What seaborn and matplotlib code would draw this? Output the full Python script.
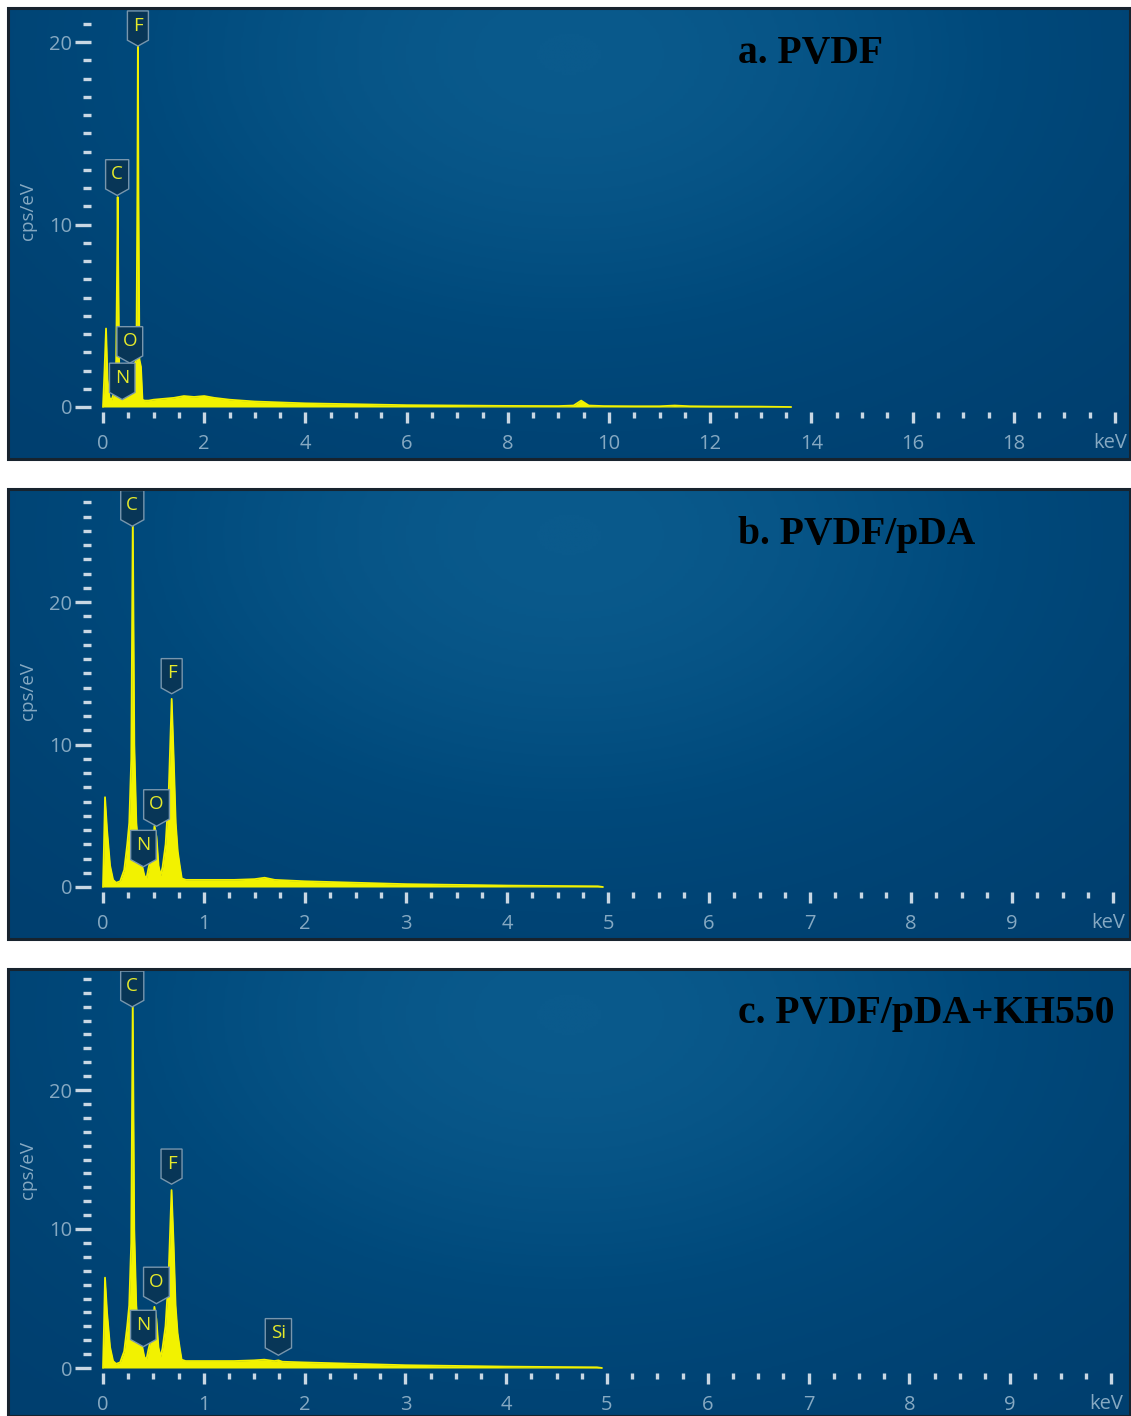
import numpy as np
import pandas as pd
import matplotlib
matplotlib.use("Agg")
import matplotlib.pyplot as plt
import seaborn as sns
from matplotlib.path import Path
from matplotlib.patches import Rectangle
from matplotlib.ticker import FixedLocator
from matplotlib.colors import LinearSegmentedColormap
import matplotlib.transforms as mtransforms

# ---------------- data ----------------
titles = ["a. PVDF", "b. PVDF/pDA", "c. PVDF/pDA+KH550"]

# Panel a: PVDF spectrum (energy keV, counts cps/eV)
a_energy = [0.00, 0.03, 0.06, 0.09, 0.13, 0.17, 0.22, 0.26, 0.28, 0.29, 0.30, 0.32, 0.35,
            0.38, 0.41, 0.44, 0.48, 0.52, 0.56, 0.60, 0.63, 0.66, 0.68, 0.69, 0.70, 0.72,
            0.75, 0.78, 0.82, 0.90, 1.0, 1.2, 1.4, 1.6, 1.8, 2.0, 2.2, 2.5, 3.0, 3.5, 4.0,
            5.0, 6.0, 7.0, 8.0, 9.0, 9.3, 9.45, 9.6, 9.9, 10.5, 11.0, 11.3, 11.6, 12.0,
            13.0, 13.6]
a_counts = [0.0, 2.0, 4.3, 1.5, 0.5, 0.4, 0.8, 2.5, 8.0, 11.5, 8.0, 2.2, 0.8,
            1.2, 0.6, 0.5, 1.2, 1.6, 0.8, 0.8, 2.4, 2.6, 12.0, 20.3, 12.0, 2.6,
            2.2, 0.4, 0.35, 0.35, 0.4, 0.45, 0.5, 0.6, 0.55, 0.6, 0.5, 0.4, 0.3, 0.25, 0.2,
            0.15, 0.1, 0.08, 0.06, 0.05, 0.08, 0.35, 0.08, 0.05, 0.04, 0.04, 0.08, 0.04, 0.03,
            0.02, 0.0]

# Panel b: PVDF/pDA
b_energy = [0.00, 0.01, 0.02, 0.04, 0.07, 0.10, 0.13, 0.17, 0.21, 0.24, 0.26, 0.28, 0.295,
            0.31, 0.33, 0.36, 0.39, 0.41, 0.43, 0.45, 0.48, 0.51, 0.53, 0.55, 0.57, 0.59,
            0.62, 0.65, 0.68, 0.70, 0.72, 0.74, 0.76, 0.78, 0.82, 1.0, 1.3, 1.5, 1.6, 1.7,
            2.0, 2.5, 3.0, 3.5, 4.0, 4.5, 4.9, 4.95]
b_counts = [0.0, 3.0, 6.3, 4.0, 1.5, 0.5, 0.3, 0.4, 1.2, 3.0, 4.5, 9.0, 26.0,
            10.0, 4.5, 2.0, 1.4, 0.8, 0.6, 1.3, 2.2, 4.3, 3.5, 1.5, 0.8, 1.4,
            3.0, 6.5, 13.2, 9.0, 4.5, 2.5, 1.5, 0.6, 0.5, 0.5, 0.5, 0.55, 0.65, 0.5,
            0.4, 0.3, 0.2, 0.15, 0.1, 0.07, 0.05, 0.0]

# Panel c: PVDF/pDA+KH550
c_energy = [0.00, 0.01, 0.02, 0.04, 0.07, 0.10, 0.13, 0.17, 0.21, 0.24, 0.26, 0.28, 0.295,
            0.31, 0.33, 0.36, 0.39, 0.41, 0.43, 0.45, 0.48, 0.51, 0.53, 0.55, 0.57, 0.59,
            0.62, 0.65, 0.68, 0.70, 0.72, 0.74, 0.76, 0.78, 0.82, 1.0, 1.3, 1.5, 1.6, 1.7,
            1.74, 1.78, 2.0, 2.5, 3.0, 3.5, 4.0, 4.5, 4.9, 4.95]
c_counts = [0.0, 3.0, 6.5, 4.0, 1.5, 0.5, 0.3, 0.4, 1.2, 3.0, 4.5, 9.0, 26.5,
            10.0, 4.5, 2.0, 1.5, 0.8, 0.6, 1.3, 2.2, 4.4, 3.5, 1.5, 0.8, 1.4,
            3.0, 6.5, 12.8, 9.0, 4.5, 2.5, 1.5, 0.6, 0.5, 0.5, 0.5, 0.55, 0.6, 0.5,
            0.55, 0.45, 0.4, 0.3, 0.2, 0.15, 0.1, 0.07, 0.05, 0.0]

# element tags: symbol, energy (keV), label centre height (cps/eV)
a_tags = [("F", 0.69, 20.9), ("C", 0.28, 12.75), ("O", 0.53, 3.6), ("N", 0.38, 1.6)]
b_tags = [("C", 0.29, 26.8), ("F", 0.68, 15.0), ("O", 0.53, 5.8), ("N", 0.40, 2.95)]
c_tags = [("C", 0.29, 27.5), ("F", 0.68, 14.7), ("O", 0.53, 6.2), ("N", 0.40, 3.1),
          ("Si", 1.74, 2.5)]

a_xmajor = [0, 2, 4, 6, 8, 10, 12, 14, 16, 18, 20]
a_xlabels = ["0", "2", "4", "6", "8", "10", "12", "14", "16", "18", ""]
bc_xmajor = [0, 1, 2, 3, 4, 5, 6, 7, 8, 9, 10]
bc_xlabels = ["0", "1", "2", "3", "4", "5", "6", "7", "8", "9", ""]
unit_label = "keV"
y_major = [0, 10, 20]

# ---------------- style ----------------
sns.set_style("dark")
plt.rcParams["font.family"] = ["Open Sans", "DejaVu Sans"]

YELLOW = "#f2f200"
TICKLBL = "#86a9c2"
TICKCOL = "#c9d7e3"

W, H = 1131, 1416
fig = plt.figure(figsize=(W / 100, H / 100), dpi=100)
fig.patch.set_facecolor("white")

grad_cmap = LinearSegmentedColormap.from_list("bg", ["#003f6f", "#00497b", "#0a5a8c"])
gy, gx = np.mgrid[1:0:200j, 0:1:400j]
grad = np.exp(-((gx - 0.5) / 0.5) ** 2 - ((gy - 0.9) / 0.8) ** 2)


def tag_style(x0, y0, width, height, mutation_size):
    pad = 0.3 * mutation_size
    x0, y0 = x0 - pad, y0 - pad
    w, h = width + 2 * pad, height + 2 * pad
    tip = 0.28 * w
    verts = [(x0, y0 + h), (x0, y0), (x0 + 0.5 * w, y0 - tip), (x0 + w, y0),
             (x0 + w, y0 + h), (x0, y0 + h)]
    codes = [Path.MOVETO] + [Path.LINETO] * 4 + [Path.CLOSEPOLY]
    return Path(verts, codes)


panels = [
    dict(top=8, bottom=459, y0px=407, ypx=18.25, x0px=103, xpx=50.6,
         energy=a_energy, counts=a_counts, tags=a_tags, xmajor=a_xmajor,
         xlabels=a_xlabels, xminor_step=0.5, ytop=21, title=titles[0]),
    dict(top=489, bottom=939, y0px=887, ypx=14.25, x0px=103, xpx=101.0,
         energy=b_energy, counts=b_counts, tags=b_tags, xmajor=bc_xmajor,
         xlabels=bc_xlabels, xminor_step=0.25, ytop=27, title=titles[1]),
    dict(top=969, bottom=1416, y0px=1368, ypx=13.9, x0px=103, xpx=100.8,
         energy=c_energy, counts=c_counts, tags=c_tags, xmajor=bc_xmajor,
         xlabels=bc_xlabels, xminor_step=0.25, ytop=28, title=titles[2]),
]

LEFT, RIGHT = 8, 1130
for p in panels:
    ax = fig.add_axes([LEFT / W, 1 - p["bottom"] / H, (RIGHT - LEFT) / W,
                       (p["bottom"] - p["top"]) / H])
    ax.imshow(grad, cmap=grad_cmap, extent=[0, 1, 0, 1], transform=ax.transAxes,
              aspect="auto", zorder=0, interpolation="bilinear")

    df = pd.DataFrame({"energy": p["energy"], "counts": p["counts"]})
    ax.fill_between(df["energy"], 0, df["counts"], color=YELLOW, lw=0, zorder=2)
    sns.lineplot(data=df, x="energy", y="counts", ax=ax, color=YELLOW, lw=1.3,
                 zorder=3, sort=False)

    ax.set_xlim(-(p["x0px"] - LEFT) / p["xpx"], (RIGHT - p["x0px"]) / p["xpx"])
    ax.set_ylim(-(p["bottom"] - p["y0px"]) / p["ypx"], (p["y0px"] - p["top"]) / p["ypx"])
    ax.grid(False)
    ax.set_xlabel("")
    ax.set_ylabel("")

    for s in ax.spines.values():
        s.set_color("none")
    ax.spines["bottom"].set_position(("data", -5 / p["ypx"]))
    ax.spines["left"].set_position(("data", -12 / p["xpx"]))

    xmax = p["xmajor"][-1]
    ax.xaxis.set_major_locator(FixedLocator(p["xmajor"]))
    ax.set_xticklabels(p["xlabels"])
    n_minor = int(round(xmax / p["xminor_step"]))
    ax.xaxis.set_minor_locator(FixedLocator([i * p["xminor_step"] for i in range(n_minor + 1)]))
    ax.yaxis.set_major_locator(FixedLocator(y_major))
    ax.yaxis.set_minor_locator(FixedLocator(list(range(0, p["ytop"] + 1))))

    ax.tick_params(axis="x", which="major", direction="out", length=8, width=2.4,
                   color=TICKCOL, labelcolor=TICKLBL, labelsize=14.5, pad=8, bottom=True)
    ax.tick_params(axis="x", which="minor", direction="out", length=4.5, width=2.4,
                   color=TICKCOL, bottom=True)
    ax.tick_params(axis="y", which="major", direction="out", length=11.5, width=2.4,
                   color=TICKCOL, labelcolor=TICKLBL, labelsize=14.5, pad=2, left=True)
    ax.tick_params(axis="y", which="minor", direction="out", length=5.8, width=2.4,
                   color=TICKCOL, left=True)

    # unit label in place of the last tick label, nudged left like the reference
    unit_tr = mtransforms.blended_transform_factory(ax.transData, ax.transAxes) + \
        mtransforms.ScaledTranslation(-5 / 100, 0, fig.dpi_scale_trans)
    ax.text(xmax, (p["bottom"] - (p["y0px"] + 36)) / (p["bottom"] - p["top"]), unit_label,
            transform=unit_tr, ha="center", va="center", color=TICKLBL, fontsize=14.5)

    ax.text(0.0178, 0.55, "cps/eV", transform=ax.transAxes, rotation=90,
            ha="center", va="center", color=TICKLBL, fontsize=13.5)

    for sym, ex, ey in p["tags"]:
        ax.text(ex, ey, sym, ha="center", va="center", color="#e6ea2a", fontsize=13.5,
                zorder=6,
                bbox=dict(boxstyle=tag_style, fc="#083657", ec="#7896ad", lw=1.0))

    ax.text(0.651, 0.900, p["title"], transform=ax.transAxes, ha="left", va="center",
            fontsize=28.5, fontweight="bold", color="black",
            family=["Liberation Serif", "DejaVu Serif"], zorder=7)

    ax.add_patch(Rectangle((0, 0), 1, 1, transform=ax.transAxes, fill=False,
                           ec="#17232e", lw=2.2, zorder=10, clip_on=False))

fig.savefig("out.png", dpi=100, facecolor="white")
